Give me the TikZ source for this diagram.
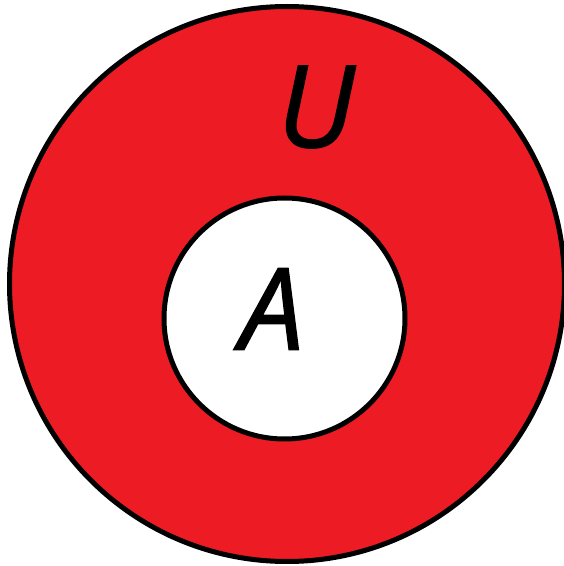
\documentclass[tikz,border=0pt]{standalone}
\usepackage{fontspec}
\setmainfont{Open Sans}
\newfontfamily\setfont[FakeBold=1.2]{Open Sans}
\usepackage{xcolor}
\definecolor{setred}{HTML}{ED1C24}

\begin{document}
\begin{tikzpicture}[x=1pt,y=1pt,
  setcircle/.style={circle,draw=black,line width=5pt,inner sep=0pt},
  setname/.style={inner sep=0pt,font=\setfont\fontsize{114}{114}\selectfont\itshape}]
\useasboundingbox (0,0) rectangle (564,566);
\node[setcircle,fill=setred,minimum size=555pt] (U) at (287,282) {};
\node[setcircle,fill=white,minimum size=241pt] (A) at (284.5,247.5) {};
\node[setname] (Ulabel) at (316,459) {U};
\node[setname] (Alabel) at (272,257) {A};
\end{tikzpicture}
\end{document}
